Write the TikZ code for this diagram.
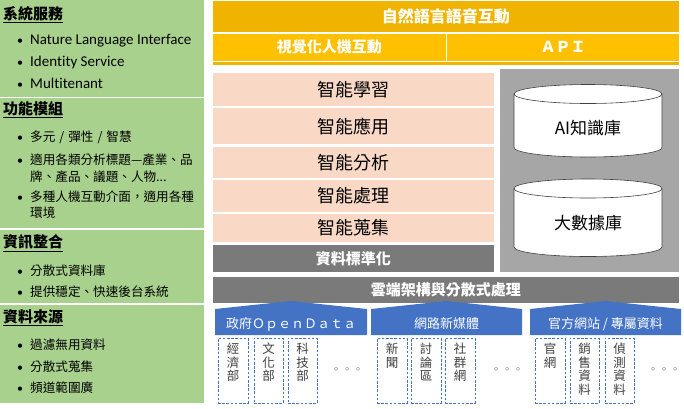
\documentclass[tikz,border=0pt]{standalone}
\usepackage{fontspec}
\setmainfont{Carlito}
\newfontfamily\cjk{Noto Sans CJK TC}
\newfontfamily\lat[Ligatures=NoCommon]{Carlito}
\definecolor{lgreen}{HTML}{A9D18E}
\definecolor{orT}{HTML}{EFB300}
\definecolor{orB}{HTML}{FFC000}
\definecolor{pinkc}{HTML}{F9D9C6}
\definecolor{dgray}{HTML}{7A7A7A}
\definecolor{mgray}{HTML}{A6A6A6}
\definecolor{blu}{HTML}{4472C4}
\definecolor{txtg}{HTML}{404040}
\newcommand{\bul}{\makebox[13pt][l]{\lat\fontsize{12}{14}\selectfont •}}
\newcommand{\sls}{\hspace{4pt}/\hspace{4pt}}
\tikzset{
  blk/.style={anchor=north west, inner sep=0pt, outer sep=0pt},
  head/.style={anchor=west, inner sep=0pt, font=\cjk\bfseries\fontsize{15}{17}\selectfont},
  bl/.style={anchor=west, inner sep=0pt, font=\lat\fontsize{15}{17}\selectfont},
  bc/.style={anchor=west, inner sep=0pt, align=left, font=\cjk\fontsize{12.6}{16.5}\selectfont},
  wt/.style={text=white, font=\cjk\bfseries\fontsize{15}{17}\selectfont},
  pk/.style={blk, fill=pinkc, minimum width=281.8pt, font=\cjk\fontsize{18}{20}\selectfont},
  cyl/.style={fill=white, draw=txtg, line width=0.6pt},
  dbox/.style={blk, draw=blu, line width=0.8pt, dash pattern=on 2.6pt off 1.6pt, minimum height=65pt},
  vt/.style={anchor=north, inner sep=0pt, align=center, text=txtg, font=\cjk\fontsize{12.5}{13.6}\selectfont},
  dots/.style={inner sep=0pt, text=txtg!70, font=\cjk\fontsize{11}{12}\selectfont},
  bt/.style={text=white, inner sep=0pt, font=\cjk\fontsize{13}{15}\selectfont}
}
\begin{document}
\begin{tikzpicture}[x=1pt,y=-1pt]
\useasboundingbox (0,0) rectangle (684,408);
\fill[white] (0,0) rectangle (684,408);
% left panel
\node[blk, fill=lgreen, minimum width=204pt, minimum height=96.5pt] (g1) at (0,0) {};
\node[blk, fill=lgreen, minimum width=204pt, minimum height=130pt] (g2) at (0,98) {};
\node[blk, fill=lgreen, minimum width=204pt, minimum height=73.5pt] (g3) at (0,229.5) {};
\node[blk, fill=lgreen, minimum width=204pt, minimum height=98.5pt] (g4) at (0,304.5) {};
\node[head] (h1) at (3,15) {\underline{系統服務}};
\node[bl] (b1) at (17,41) {\bul Nature Language Interface};
\node[bl] (b2) at (17,62) {\bul Identity Service};
\node[bl] (b3) at (17,83) {\bul Multitenant};
\node[head] (h2) at (3,110) {\underline{功能模組}};
\node[bc] (b4) at (17,137) {\bul 多元\sls 彈性\sls 智慧};
\node[bc] (b5) at (17,168) {\bul 適用各類分析標題—產業、品\\\hspace*{13pt}牌、產品、議題、人物...};
\node[bc] (b6) at (17,204.5) {\bul 多種人機互動介面，適用各種\\\hspace*{13pt}環境};
\node[head] (h3) at (3,243) {\underline{資訊整合}};
\node[bc] (b7) at (17,271) {\bul 分散式資料庫};
\node[bc] (b8) at (17,292) {\bul 提供穩定、快速後台系統};
\node[head] (h4) at (3,318) {\underline{資料來源}};
\node[bc] (b9) at (17,345) {\bul 過濾無用資料};
\node[bc] (b10) at (17,367) {\bul 分散式蒐集};
\node[bc] (b11) at (17,388) {\bul 頻道範圍廣};
% top orange
\node[blk, fill=orT, minimum width=466.5pt, minimum height=31pt, wt, font=\cjk\bfseries\fontsize{16}{18}\selectfont] (nlp) at (212.5,1) {自然語言語音互動};
\node[blk, fill=orB, minimum width=233.5pt, minimum height=27pt, wt] (vis) at (212.5,33.5) {視覺化人機互動};
\node[blk, fill=orB, minimum width=232pt, minimum height=27pt, wt] (api) at (447,33.5) {ＡＰＩ};
\node[blk, fill=orT, minimum width=466.5pt, minimum height=2.6pt] (strip) at (212.5,62) {};
% pink stack
\node[pk, minimum height=33pt] (p1) at (212.5,73) {智能學習};
\node[pk, minimum height=35.7pt] (p2) at (212.5,108.3) {智能應用};
\node[pk, minimum height=30.4pt] (p3) at (212.5,147.3) {智能分析};
\node[pk, minimum height=31.7pt] (p4) at (212.5,180) {智能處理};
\node[pk, minimum height=27.4pt] (p5) at (212.5,214.3) {智能蒐集};
\node[blk, fill=dgray, minimum width=281.8pt, minimum height=26.7pt, wt] (std) at (212.5,245) {資料標準化};
% gray panel with cylinders
\node[blk, fill=mgray, minimum width=179pt, minimum height=202.7pt] (gp) at (500,69) {};
\path[cyl] (514,94) -- (514,147.5) arc[start angle=180,end angle=360,x radius=74pt,y radius=9.5pt] -- (662,94) arc[start angle=0,end angle=180,x radius=74pt,y radius=9.5pt] -- cycle;
\draw[cyl, fill=none] (514,94) arc[start angle=180,end angle=360,x radius=74pt,y radius=9.5pt];
\node[inner sep=0pt, font=\cjk\fontsize{17}{19}\selectfont] (ai) at (588,128) {AI知識庫};
\path[cyl] (514,188.5) -- (514,247) arc[start angle=180,end angle=360,x radius=74pt,y radius=9.5pt] -- (662,188.5) arc[start angle=0,end angle=180,x radius=74pt,y radius=9.5pt] -- cycle;
\draw[cyl, fill=none] (514,188.5) arc[start angle=180,end angle=360,x radius=74pt,y radius=9.5pt];
\node[inner sep=0pt, font=\cjk\fontsize{17}{19}\selectfont] (bd) at (588,223) {大數據庫};
% cloud bar
\node[blk, fill=dgray, minimum width=466.5pt, minimum height=26.3pt, wt] (cloud) at (212.5,276.7) {雲端架構與分散式處理};
% blue pentagons
\fill[blu] (215,335) -- (215,309) -- (291,301) -- (367,309) -- (367,335) -- cycle;
\node[bt] (gov) at (291,324) {政府ＯｐｅｎＤａｔａ};
\fill[blu] (371,335) -- (371,309) -- (446.5,301) -- (522,309) -- (522,335) -- cycle;
\node[bt] (net) at (446.5,324) {網路新媒體};
\fill[blu] (530,335) -- (530,309) -- (605.5,301) -- (681,309) -- (681,335) -- cycle;
\node[bt] (off) at (605.5,324) {官方網站 / 專屬資料};
% dashed boxes
\node[dbox, minimum width=30pt] (d1) at (218,338) {};
\node[vt] (t1) at ([yshift=-5pt]d1.north) {經\\濟\\部};
\node[dbox, minimum width=29pt] (d2) at (254,338) {};
\node[vt] (t2) at ([yshift=-5pt]d2.north) {文\\化\\部};
\node[dbox, minimum width=29pt] (d3) at (288,338) {};
\node[vt] (t3) at ([yshift=-5pt]d3.north) {科\\技\\部};
\node[dots] (e1) at (347,371) {。。。};
\node[dbox, minimum width=30pt] (d4) at (377,338) {};
\node[vt] (t4) at ([yshift=-5pt]d4.north) {新\\聞};
\node[dbox, minimum width=30pt] (d5) at (411,338) {};
\node[vt] (t5) at ([yshift=-5pt]d5.north) {討\\論\\區};
\node[dbox, minimum width=30pt] (d6) at (445,338) {};
\node[vt] (t6) at ([yshift=-5pt]d6.north) {社\\群\\網};
\node[dots] (e2) at (507,371) {。。。};
\node[dbox, minimum width=30pt] (d7) at (535,338) {};
\node[vt] (t7) at ([yshift=-5pt]d7.north) {官\\網};
\node[dbox, minimum width=29pt] (d8) at (570,338) {};
\node[vt] (t8) at ([yshift=-5pt]d8.north) {銷\\售\\資\\料};
\node[dbox, minimum width=29pt] (d9) at (605,338) {};
\node[vt] (t9) at ([yshift=-5pt]d9.north) {偵\\測\\資\\料};
\node[dots] (e3) at (664,371) {。。。};
\end{tikzpicture}
\end{document}
